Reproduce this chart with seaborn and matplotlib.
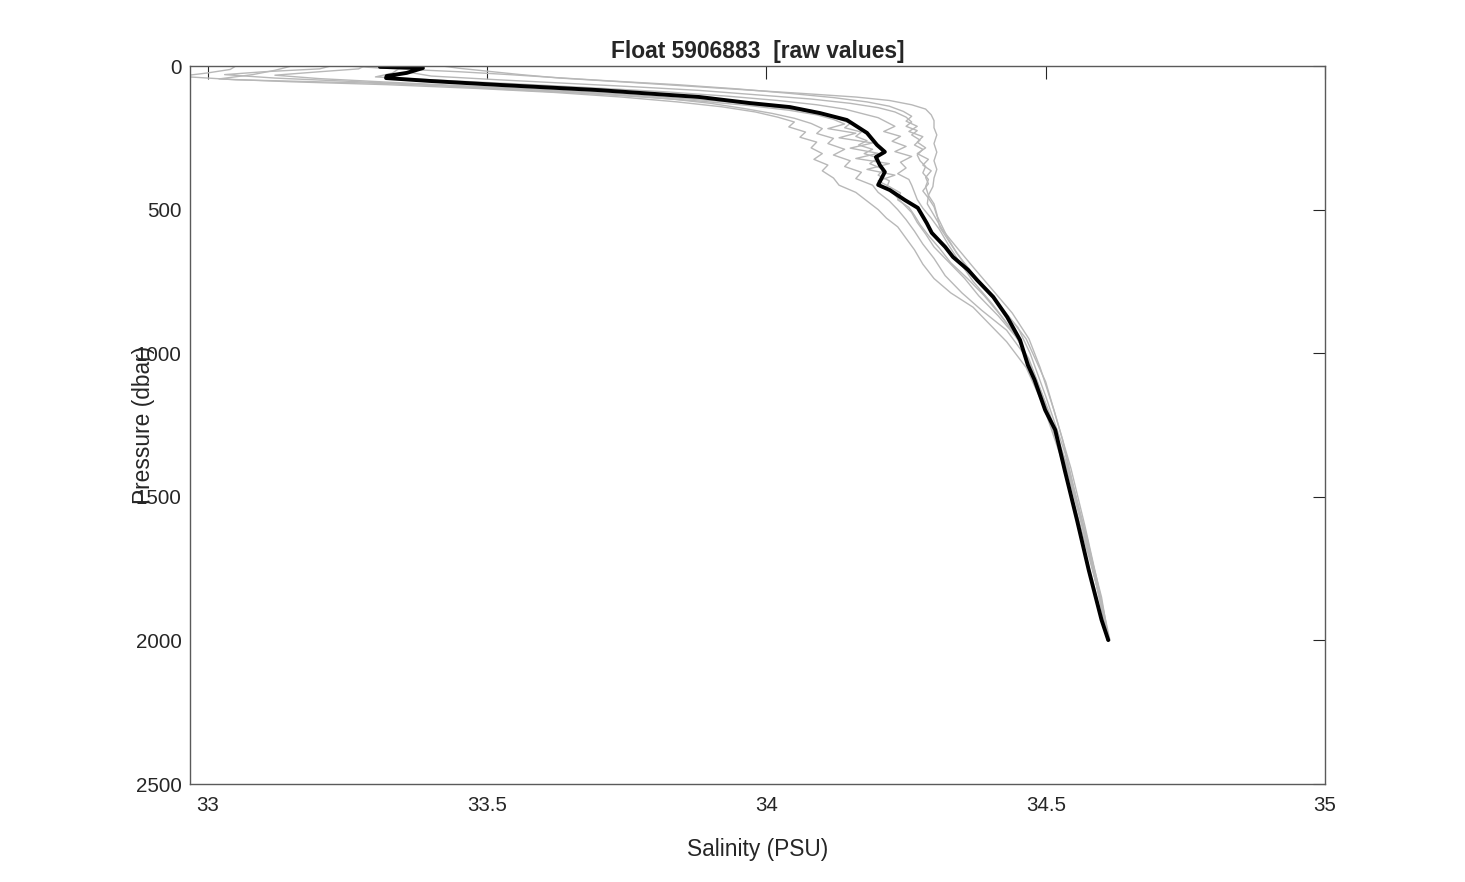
import numpy as np
import pandas as pd
import seaborn as sns
import matplotlib
matplotlib.use("Agg")
import matplotlib.pyplot as plt

# black profile (latest cycle)
main_pres = [0, 3, 7, 24, 35, 42, 52, 66, 84, 108, 129, 143, 164, 188, 233, 275, 299, 317,
             345, 369, 414, 432, 467, 494, 547, 581, 630, 665, 710, 745, 804, 874, 954,
             1041, 1093, 1198, 1267, 1407, 1581, 1755, 1929, 1999]
main_sal = [33.308, 33.308, 33.385, 33.356, 33.32, 33.319, 33.397, 33.523, 33.70, 33.88,
            33.97, 34.042, 34.096, 34.144, 34.18, 34.198, 34.212, 34.196, 34.203, 34.212,
            34.20, 34.221, 34.248, 34.271, 34.287, 34.296, 34.32, 34.334, 34.361, 34.377,
            34.406, 34.431, 34.454, 34.468, 34.48, 34.499, 34.517, 34.534, 34.556, 34.577,
            34.600, 34.612]

# grey profiles (other cycles)
g1_pres = [0, 8, 18, 30, 42, 55, 70, 84, 95, 108, 120, 135, 150, 170, 190, 215, 240, 270, 300,
           330, 360, 390, 420, 450, 480, 520, 570, 630, 700, 780, 860, 950, 1050, 1200, 1400,
           1600, 1800, 2000]
g1_sal = [33.42, 33.45, 33.50, 33.56, 33.63, 33.74, 33.86, 33.97, 34.06, 34.16, 34.22, 34.26,
          34.285, 34.295, 34.30, 34.30, 34.305, 34.30, 34.305, 34.30, 34.305, 34.30, 34.298,
          34.29, 34.288, 34.30, 34.315, 34.34, 34.37, 34.405, 34.44, 34.47, 34.49, 34.515,
          34.545, 34.57, 34.593, 34.615]

g2_pres = [0, 10, 22, 35, 48, 60, 72, 85, 100, 115, 130, 145, 160, 178, 195, 210, 225, 240, 258,
           275, 290, 310, 330, 350, 372, 395, 420, 450, 480, 515, 560, 620, 690, 770, 850, 950,
           1100, 1300, 1550, 1800, 2000]
g2_sal = [33.38, 33.38, 33.36, 33.40, 33.52, 33.64, 33.76, 33.88, 33.98, 34.08, 34.15, 34.20,
          34.23, 34.25, 34.26, 34.25, 34.27, 34.26, 34.275, 34.265, 34.28, 34.27, 34.275,
          34.285, 34.28, 34.29, 34.285, 34.29, 34.30, 34.305, 34.31, 34.33, 34.355, 34.39,
          34.425, 34.465, 34.50, 34.53, 34.56, 34.59, 34.612]

g3_pres = [0, 12, 25, 38, 50, 62, 75, 90, 105, 120, 135, 150, 165, 180, 195, 210, 228, 245, 262,
           280, 298, 315, 335, 355, 375, 395, 415, 440, 465, 495, 530, 570, 620, 680, 750, 830,
           920, 1020, 1150, 1350, 1600, 1850, 2000]
g3_sal = [33.35, 33.34, 33.33, 33.30, 33.42, 33.55, 33.68, 33.82, 33.93, 34.02, 34.09, 34.14,
          34.17, 34.20, 34.215, 34.23, 34.21, 34.24, 34.225, 34.25, 34.23, 34.26, 34.24, 34.25,
          34.235, 34.255, 34.26, 34.265, 34.27, 34.28, 34.295, 34.31, 34.325, 34.345, 34.37,
          34.405, 34.44, 34.47, 34.495, 34.53, 34.565, 34.597, 34.612]

g4_pres = [0, 10, 20, 32, 44, 56, 68, 80, 95, 110, 125, 140, 155, 170, 185, 200, 215, 230, 245,
           260, 275, 290, 305, 320, 340, 360, 380, 400, 425, 450, 480, 510, 545, 585, 630, 680,
           740, 800, 870, 950, 1050, 1200, 1400, 1650, 1900, 2000]
g4_sal = [33.28, 33.27, 33.20, 33.12, 33.20, 33.32, 33.45, 33.58, 33.72, 33.83, 33.93, 34.00,
          34.06, 34.10, 34.13, 34.15, 34.14, 34.17, 34.16, 34.18, 34.165, 34.19, 34.175, 34.20,
          34.185, 34.21, 34.20, 34.22, 34.215, 34.23, 34.245, 34.26, 34.27, 34.285, 34.30,
          34.325, 34.355, 34.38, 34.415, 34.45, 34.475, 34.505, 34.54, 34.575, 34.603, 34.612]

g5_pres = [0, 12, 24, 36, 48, 60, 72, 85, 100, 115, 130, 148, 165, 182, 200, 218, 235, 252, 270,
           290, 310, 330, 350, 370, 392, 415, 440, 470, 500, 535, 575, 620, 670, 730, 790, 850,
           920, 1000, 1150, 1350, 1600, 1850, 2000]
g5_sal = [33.05, 33.04, 33.00, 32.95, 33.05, 33.30, 33.46, 33.60, 33.73, 33.83, 33.90, 33.96,
          34.01, 34.05, 34.08, 34.10, 34.09, 34.12, 34.11, 34.14, 34.12, 34.15, 34.14, 34.17,
          34.16, 34.19, 34.20, 34.22, 34.235, 34.25, 34.265, 34.28, 34.30, 34.32, 34.35,
          34.385, 34.43, 34.46, 34.49, 34.525, 34.562, 34.597, 34.61]

g6_pres = [0, 15, 30, 45, 55, 65, 78, 92, 108, 125, 142, 160, 178, 195, 212, 230, 248, 265, 285,
           305, 325, 345, 365, 390, 415, 440, 470, 500, 530, 560, 600, 640, 690, 740, 790, 840,
           900, 960, 1050, 1200, 1400, 1650, 1900, 2000]
g6_sal = [33.15, 33.12, 33.08, 33.02, 33.15, 33.32, 33.48, 33.62, 33.74, 33.84, 33.92, 33.98,
          34.02, 34.05, 34.04, 34.07, 34.06, 34.09, 34.08, 34.10, 34.085, 34.11, 34.10, 34.12,
          34.13, 34.16, 34.18, 34.20, 34.215, 34.235, 34.25, 34.265, 34.28, 34.30, 34.33,
          34.37, 34.40, 34.43, 34.465, 34.50, 34.538, 34.572, 34.602, 34.61]

g7_pres = [0, 6, 12, 20, 30, 40, 52, 65, 80, 95, 110, 125, 140, 158, 175, 192, 210, 228, 246,
           265, 285, 305, 325, 345, 365, 388, 410, 435, 460, 490, 520, 560, 600, 650, 700, 760,
           830, 910, 1000, 1150, 1350, 1600, 1850, 2000]
g7_sal = [33.25, 33.30, 33.36, 33.45, 33.54, 33.62, 33.72, 33.84, 33.95, 34.04, 34.12, 34.18,
          34.22, 34.245, 34.26, 34.25, 34.27, 34.255, 34.28, 34.27, 34.285, 34.27, 34.29, 34.28,
          34.295, 34.285, 34.29, 34.28, 34.29, 34.30, 34.305, 34.315, 34.325, 34.34, 34.36,
          34.385, 34.415, 34.45, 34.472, 34.50, 34.535, 34.567, 34.60, 34.613]

g8_pres = [0, 10, 20, 30, 42, 54, 66, 80, 94, 108, 122, 138, 154, 170, 186, 202, 218, 234, 250,
           268, 286, 304, 322, 340, 360, 380, 400, 420, 442, 466, 492, 520, 552, 590, 635, 685,
           740, 800, 870, 950, 1050, 1200, 1400, 1650, 1900, 2000]
g8_sal = [33.22, 33.20, 33.10, 33.03, 33.12, 33.26, 33.40, 33.52, 33.66, 33.78, 33.88, 33.97,
          34.04, 34.09, 34.12, 34.14, 34.11, 34.16, 34.13, 34.19, 34.15, 34.20, 34.16, 34.22,
          34.18, 34.23, 34.20, 34.22, 34.24, 34.235, 34.255, 34.265, 34.275, 34.29, 34.31,
          34.33, 34.36, 34.39, 34.42, 34.45, 34.475, 34.50, 34.54, 34.572, 34.603, 34.612]

grey = {"g1": (g1_pres, g1_sal), "g2": (g2_pres, g2_sal), "g3": (g3_pres, g3_sal),
        "g4": (g4_pres, g4_sal), "g5": (g5_pres, g5_sal), "g6": (g6_pres, g6_sal),
        "g7": (g7_pres, g7_sal), "g8": (g8_pres, g8_sal)}

rows = []
for name, (p, s) in grey.items():
    for pp, ss in zip(p, s):
        rows.append({"profile": name, "pres": pp, "sal": ss})
df = pd.DataFrame(rows)
main = pd.DataFrame({"pres": main_pres, "sal": main_sal})

sns.set_style("white")
plt.rcParams["font.family"] = ["Liberation Sans", "DejaVu Sans"]

fig = plt.figure(figsize=(14.65, 8.82), dpi=100)
ax = fig.add_axes([190 / 1465, 1 - 784 / 882, 1135 / 1465, 718 / 882])

sns.lineplot(data=df, x="sal", y="pres", units="profile", estimator=None, sort=False,
             color="#b8b8b8", lw=1.0, ax=ax)
sns.lineplot(data=main, x="sal", y="pres", estimator=None, sort=False,
             color="black", lw=2.8, ax=ax)

ax.set_xlim(32.968, 35)
ax.set_ylim(2500, 0)
ax.set_xticks([33, 33.5, 34, 34.5, 35])
ax.set_xticklabels(["33", "33.5", "34", "34.5", "35"])
ax.set_yticks([0, 500, 1000, 1500, 2000, 2500])

ax.tick_params(axis="both", direction="in", length=9, width=0.8, color="#262626",
               labelsize=14.8, labelcolor="#262626", top=True, right=True)
ax.tick_params(axis="x", pad=8.5)
ax.tick_params(axis="y", pad=6)
for sp in ax.spines.values():
    sp.set_color("#5a5a5a")
    sp.set_linewidth(1.0)

ax.set_xlabel("Salinity (PSU)", fontsize=16.4, color="#262626")
ax.xaxis.set_label_coords(0.5, -0.075)
ax.set_ylabel("Pressure (dbar)", fontsize=16.4, color="#262626")
ax.yaxis.set_label_coords(-0.0305, 0.5)
ax.set_title("Float 5906883  [raw values]", fontsize=16.4, fontweight="bold",
             color="#262626", pad=6)

fig.savefig("out.png", dpi=100)
